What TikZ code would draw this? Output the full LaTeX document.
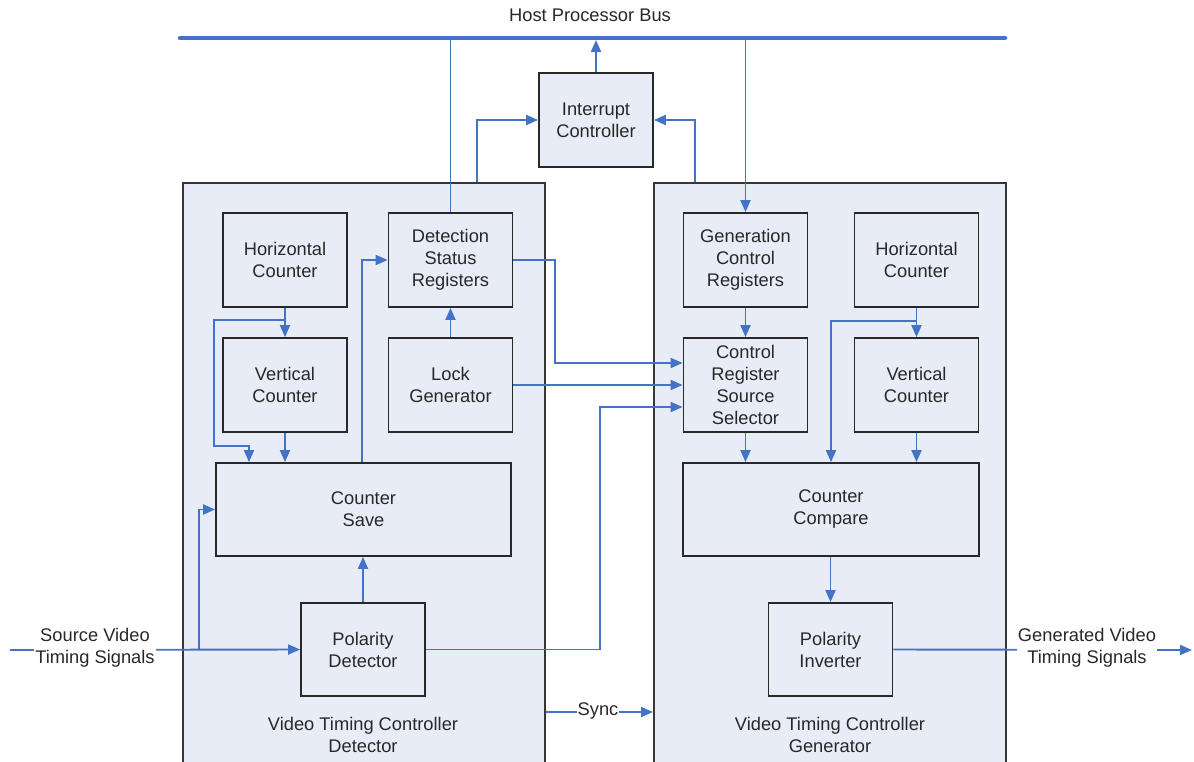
\documentclass[tikz,border=0pt]{standalone}
\usepackage{fontspec}
\setmainfont{Liberation Sans}
\usetikzlibrary{arrows.meta}
\definecolor{lnblue}{RGB}{68,114,196}
\definecolor{boxfill}{RGB}{231,236,247}
\definecolor{boxline}{RGB}{40,40,40}
\definecolor{panelline}{RGB}{55,55,55}
\definecolor{txt}{RGB}{40,40,40}
\begin{document}
\begin{tikzpicture}[x=1pt,y=-1pt,
  txtfont/.style={font=\fontsize{18.3}{22}\selectfont, text=txt, align=center},
  blk/.style={txtfont, draw=boxline, line width=1.8pt, fill=boxfill, inner sep=0pt},
  sq/.style={blk, minimum width=124pt, minimum height=94pt},
  wide/.style={blk, minimum width=296pt, minimum height=93pt},
  panel/.style={draw=panelline, line width=1.8pt, fill=boxfill, inner sep=0pt, anchor=north west},
  lbl/.style={txtfont, inner sep=1pt},
  ln/.style={draw=lnblue, line width=1.9pt},
  arr/.style={ln, -{Triangle[length=12pt,width=10pt]}},
  busline/.style={draw=lnblue, line width=4.5pt, line cap=round}
]
\useasboundingbox (0,0) rectangle (1194,761);

% bus
\coordinate (busL) at (180,38);
\coordinate (busR) at (1005,38);
\draw[busline] (busL) -- (busR);
\node[lbl] (buslbl) at (590,15) {Host Processor Bus};

% panels
\node[panel, minimum width=362pt, minimum height=600pt] (det) at (182,182) {};
\node[panel, minimum width=352pt, minimum height=600pt] (gen) at (653,182) {};

% interrupt controller
\node[blk, minimum width=114pt, minimum height=94pt] (ic) at (596,120) {Interrupt\\Controller};

% detector blocks
\node[sq] (hc1) at (285,260) {Horizontal\\Counter};
\node[sq] (dsr) at (450.5,260) {Detection\\Status\\Registers};
\node[sq] (vc1) at (285,385) {Vertical\\Counter};
\node[sq] (lg) at (450.5,385) {Lock\\Generator};
\node[wide, minimum width=295pt] (cs) at (363.5,509.5) {Counter\\Save};
\node[sq, minimum height=93pt] (pd) at (363,649.5) {Polarity\\Detector};
\node[lbl] (detlbl) at (363,735) {Video Timing Controller\\Detector};

% generator blocks
\node[sq] (gcr) at (745.5,260) {Generation\\Control\\Registers};
\node[sq] (hc2) at (916.5,260) {Horizontal\\Counter};
\node[sq] (crss) at (745.5,385) {Control\\Register\\Source\\Selector};
\node[sq] (vc2) at (916.5,385) {Vertical\\Counter};
\node[wide] (cc) at (831,509.5) {Counter\\Compare};
\node[sq, minimum height=93pt] (pi) at (830.5,649.5) {Polarity\\Inverter};
\node[lbl] (genlbl) at (830,735) {Video Timing Controller\\Generator};

% bus connections
\draw[arr, shorten >=2pt] (ic.north) -- (ic.north |- busL);
\draw[ln] (dsr.north) -- (dsr.north |- busL);
\draw[arr, shorten <=2pt] (gcr.north |- busL) -- (gcr.north);
\draw[arr] (det.north -| 477,0) |- (ic.west);
\draw[arr] (gen.north -| 695,0) |- (ic.east);

% detector connections
\draw[arr] (hc1.south) -- (vc1.north);
\draw[arr] (hc1.south |- 0,320) -- (214,320) |- (249,446) -- (cs.north -| 249,0);
\draw[arr] (vc1.south) -- (cs.north -| vc1.south);
\draw[arr] (cs.north -| 362,0) |- (dsr.west);
\draw[arr] (lg.north) -- (dsr.south);
\draw[arr] (pd.north) -- (cs.south -| pd.north);

% cross connections
\draw[arr] (dsr.east) -- (555,260) |- (crss.west |- 0,363);
\draw[arr] (lg.east) -- (crss.west |- lg.east);
\draw[arr] (pd.east) -| (600,407) -- (crss.west |- 0,407);

% generator connections
\draw[arr] (gcr.south) -- (crss.north);
\draw[arr] (hc2.south) -- (vc2.north);
\draw[arr] (hc2.south |- 0,321) -| (cc.north);
\draw[arr] (crss.south) -- (cc.north -| crss.south);
\draw[arr] (vc2.south) -- (cc.north -| vc2.south);
\draw[arr] (cc.south -| pi.north) -- (pi.north);

% source signals
\coordinate (srcL) at (10,650);
\draw[arr] (srcL) -- (pd.west);
\draw[arr] (199,650) |- (cs.west);
\node[lbl, fill=white] (srclbl) at (95,648) {Source Video\\Timing Signals};

% generated signals
\coordinate (outR) at (1192,650);
\draw[arr] (pi.east) -- (outR);
\node[lbl, fill=white] (outlbl) at (1087,648) {Generated Video\\Timing Signals};

% sync
\draw[arr] (det.east |- 0,712) -- (gen.west |- 0,712);
\node[lbl, fill=white, inner sep=0.5pt] (synclbl) at (598,711) {Sync};
\end{tikzpicture}
\end{document}
